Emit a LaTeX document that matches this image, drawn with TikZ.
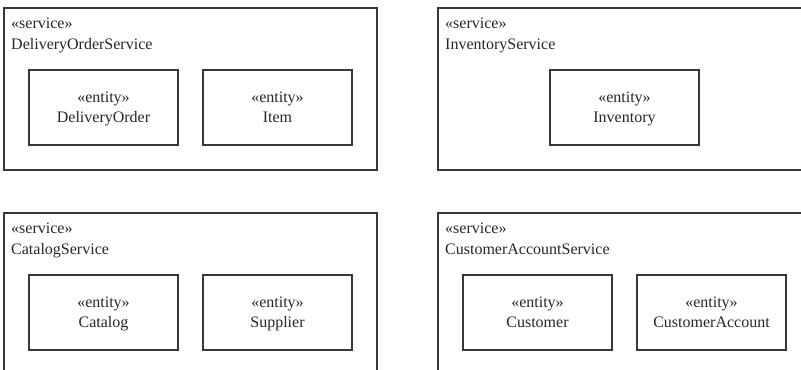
\documentclass[tikz,border=0pt]{standalone}
\usepackage{fontspec}
\setmainfont{Liberation Serif}
\begin{document}
\begin{tikzpicture}[x=1bp,y=-1bp,
  frame/.style={draw=black!78, line width=1.1bp, rectangle, inner sep=0pt, outer sep=0pt, anchor=north west},
  svcbox/.style={frame, minimum width=373bp, minimum height=162bp},
  openbox/.style={frame, minimum width=400bp, minimum height=200bp},
  entbox/.style={frame, minimum width=149bp, minimum height=75bp},
  txt/.style={inner sep=0pt, font=\fontsize{16bp}{20bp}\selectfont, text=black!85},
  stereo/.style={txt, anchor=base},
  svclabel/.style={txt, anchor=base west}
]
\useasboundingbox (0,0) rectangle (801,369);
\clip (0,0) rectangle (801,369);

% service containers
\node[svcbox] (s1) at (4,8) {};
\node[openbox, minimum height=162bp] (s2) at (438,8) {};
\node[svcbox, minimum height=200bp] (s3) at (4,213) {};
\node[openbox] (s4) at (438,213) {};

% service labels
\foreach \s/\n in {s1/DeliveryOrderService, s2/InventoryService, s3/CatalogService, s4/CustomerAccountService} {
  \node[svclabel] (\s st) at ([xshift=7bp, yshift=-20bp]\s.north west) {«service»};
  \node[svclabel] (\s nm) at ([xshift=7bp, yshift=-41bp]\s.north west) {\n};
}

% entities
\node[entbox] (e1) at (29,70) {};
\node[entbox] (e2) at (203,70) {};
\node[entbox] (e3) at (550,70) {};
\node[entbox] (e4) at (29,275) {};
\node[entbox] (e5) at (203,275) {};
\node[entbox] (e6) at (463,275) {};
\node[entbox] (e7) at (637,275) {};

\foreach \e/\n in {e1/DeliveryOrder, e2/Item, e3/Inventory, e4/Catalog, e5/Supplier, e6/Customer, e7/CustomerAccount} {
  \node[stereo] (\e st) at ([yshift=-32bp]\e.north) {«entity»};
  \node[stereo] (\e nm) at ([yshift=-52bp]\e.north) {\n};
}
\end{tikzpicture}
\end{document}
